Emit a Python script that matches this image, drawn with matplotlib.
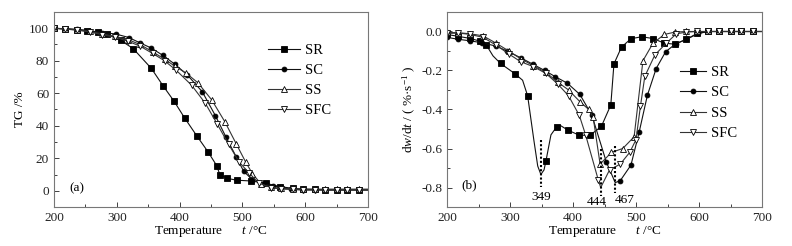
import matplotlib
matplotlib.use("Agg")
import matplotlib.pyplot as plt
from matplotlib.ticker import MultipleLocator

plt.rcParams['font.family'] = ['Liberation Serif', 'DejaVu Serif']
plt.rcParams['mathtext.fontset'] = 'custom'
plt.rcParams['mathtext.rm'] = 'Liberation Serif'
plt.rcParams['mathtext.it'] = 'Liberation Serif:italic'

series = ["SR", "SC", "SS", "SFC"]

# ---- (a) TG curves ----
tg_sr_t = [200, 218, 236, 253, 270, 285, 306, 326, 355, 374, 391, 408, 427, 445, 459, 464, 476, 491, 514, 538, 560, 580, 597, 615, 632, 650, 667, 685, 700]
tg_sr = [100, 99.6, 99.2, 98.5, 97.6, 96.3, 92.6, 87.5, 75.3, 64.4, 55.2, 44.8, 34, 24.1, 15.5, 10, 7.6, 6.5, 6, 4.5, 2.5, 1.5, 1, 0.8, 0.5, 0.5, 0.5, 0.5, 0.5]
tg_sc_t = [200, 218, 237, 256, 277, 298, 319, 337, 355, 373, 392, 412, 436, 457, 474, 490, 502, 516, 533, 548, 562, 578, 597, 615, 632, 650, 667, 685, 700]
tg_sc = [100, 99.7, 99.3, 98.5, 97.3, 96.5, 94.3, 91, 87.8, 83.4, 78, 71.4, 61, 46.2, 32.9, 21, 12, 6.7, 4.3, 3, 2.2, 1, 0.5, 0.5, 0.5, 0.5, 0.5, 0.5, 0.5]
tg_ss_t = [200, 218, 237, 257, 277, 297, 318, 337, 357, 376, 393, 410, 429, 451, 472, 490, 505, 516, 530, 545, 562, 580, 597, 615, 632, 650, 667, 685, 700]
tg_ss = [100, 99.5, 99, 98, 96.5, 95, 93, 90, 85.5, 81, 76.5, 72.5, 66.5, 56, 42.5, 29, 17.8, 10.5, 4, 2.2, 1.5, 1.2, 1, 1, 1, 1, 1, 1, 1]
tg_sfc_t = [200, 218, 237, 257, 277, 297, 318, 337, 357, 376, 395, 419, 441, 460, 478, 495, 511, 526, 545, 562, 580, 597, 615, 632, 650, 667, 685, 700]
tg_sfc = [100, 99.5, 98.8, 97.7, 96, 94.5, 92, 89, 84.5, 80, 74, 65, 53.8, 41, 28.6, 17.6, 10.8, 4.7, 2, 1, 0.8, 0.5, 0.5, 0.5, 0.5, 0.5, 0.5, 0.5]

# ---- (b) DTG curves ----
dtg_sr_t = [200, 218, 236, 253, 262, 273, 285, 308, 320, 328, 338, 344, 349, 354, 357, 365, 374, 380, 392, 410, 427, 445, 460, 465, 477, 492, 509, 527, 545, 562, 580, 597, 615, 632, 650, 667, 685, 700]
dtg_sr = [-0.015, -0.025, -0.035, -0.05, -0.067, -0.125, -0.164, -0.217, -0.25, -0.33, -0.56, -0.69, -0.733, -0.71, -0.665, -0.53, -0.489, -0.482, -0.506, -0.532, -0.532, -0.487, -0.377, -0.166, -0.08, -0.037, -0.027, -0.036, -0.06, -0.065, -0.04, -0.01, 0, 0, 0, 0, 0, 0]
dtg_sc_t = [200, 218, 237, 256, 278, 296, 317, 337, 355, 372, 391, 411, 430, 453, 467, 475, 492, 505, 518, 532, 547, 563, 580, 599, 615, 632, 650, 667, 685, 700]
dtg_sc = [-0.03, -0.04, -0.048, -0.058, -0.075, -0.101, -0.135, -0.169, -0.2, -0.232, -0.265, -0.323, -0.43, -0.67, -0.775, -0.765, -0.685, -0.516, -0.328, -0.19, -0.104, -0.063, -0.04, -0.01, 0, 0, 0, 0, 0, 0]
dtg_ss_t = [200, 218, 237, 257, 278, 298, 317, 337, 357, 376, 393, 411, 425, 432, 443, 461, 479, 497, 511, 527, 545, 562, 580, 597, 615, 632, 650, 667, 685, 700]
dtg_ss = [-0.005, -0.006, -0.012, -0.022, -0.06, -0.1, -0.14, -0.175, -0.21, -0.26, -0.3, -0.36, -0.4, -0.44, -0.68, -0.62, -0.6, -0.54, -0.15, -0.06, -0.015, -0.003, 0, 0, 0, 0, 0, 0, 0, 0]
dtg_sfc_t = [200, 218, 237, 257, 278, 298, 317, 337, 357, 376, 393, 410, 420, 440, 444, 458, 475, 490, 500, 507, 514, 530, 548, 564, 580, 597, 615, 632, 650, 667, 685, 700]
dtg_sfc = [-0.01, -0.008, -0.015, -0.03, -0.07, -0.115, -0.155, -0.18, -0.215, -0.27, -0.33, -0.43, -0.53, -0.76, -0.8, -0.71, -0.68, -0.62, -0.555, -0.384, -0.23, -0.12, -0.06, -0.012, -0.003, 0, 0, 0, 0, 0, 0, 0]

# temperatures of curve points drawn without a marker (curve shape points, end of range)
unmarked = {"SR": [273, 320, 338, 344, 349, 354, 365, 380, 700], "SC": [467, 700], "SS": [700], "SFC": [444, 700]}

peaks = [349, 444, 467]
peak_top = [-0.555, -0.603, -0.589]
peak_bottom = [-0.795, -0.846, -0.829]
peak_label_x = [350, 437, 482]
peak_label_y = [-0.848, -0.874, -0.862]

styles = {
    "SR": dict(marker='s', ms=3.8, mfc='black', color='#111111'),
    "SC": dict(marker='o', ms=3.5, mfc='black', color='#111111'),
    "SS": dict(marker='^', ms=4.4, mfc='white', color='#333333'),
    "SFC": dict(marker='v', ms=4.4, mfc='white', color='#333333'),
}

fig = plt.figure(figsize=(7.92, 2.46), dpi=100)
axa = fig.add_axes([54/792, 1-207/246, 314/792, 195/246])
axb = fig.add_axes([447/792, 1-207/246, 315/792, 195/246])

tg = {"SR": (tg_sr_t, tg_sr), "SC": (tg_sc_t, tg_sc), "SS": (tg_ss_t, tg_ss), "SFC": (tg_sfc_t, tg_sfc)}
dtg = {"SR": (dtg_sr_t, dtg_sr), "SC": (dtg_sc_t, dtg_sc), "SS": (dtg_ss_t, dtg_ss), "SFC": (dtg_sfc_t, dtg_sfc)}

for ax, data in ((axa, tg), (axb, dtg)):
    for s in series:
        t, v = data[s]
        me = [i for i, tt in enumerate(t) if tt not in unmarked[s]]
        st = styles[s]
        ax.plot(t, v, marker=st['marker'], ms=st['ms'], mfc=st['mfc'], mec='black', mew=0.6,
                color=st['color'], lw=0.8, markevery=me, label=s)

for ax in (axa, axb):
    ax.set_xlim(200, 700)
    ax.xaxis.set_major_locator(MultipleLocator(100))
    ax.xaxis.set_minor_locator(MultipleLocator(50))
    ax.tick_params(which='both', direction='in', top=False, right=False, labelsize=9.5, colors='#222222')
    ax.tick_params(which='major', length=3.5, width=0.6)
    ax.tick_params(which='minor', length=2, width=0.6)
    for sp in ax.spines.values():
        sp.set_color('#777777')
        sp.set_linewidth(0.8)
    ax.set_xlabel(r"Temperature      $t$ /°C", fontsize=9.5, labelpad=0)

axa.set_ylim(-10, 110)
axa.set_yticks([0, 20, 40, 60, 80, 100])
axa.yaxis.set_minor_locator(MultipleLocator(10))
axa.set_ylabel("TG /%", fontsize=9.5, labelpad=2)
axa.text(236, 1.5, "(a)", fontsize=9.5, ha='center', va='center')

axb.set_ylim(-0.9, 0.1)
axb.set_yticks([-0.8, -0.6, -0.4, -0.2, 0.0])
axb.yaxis.set_minor_locator(MultipleLocator(0.1))
axb.set_yticklabels(["-0.8", "-0.6", "-0.4", "-0.2", "0.0"])
axb.set_ylabel(r"d$w$/d$t$ / ( %·s$^{-1}$ )", fontsize=9.5, labelpad=2)
axb.text(236, -0.79, "(b)", fontsize=9.5, ha='center', va='center')

for px, y0, y1, lx, ly in zip(peaks, peak_top, peak_bottom, peak_label_x, peak_label_y):
    axb.plot([px, px], [y0, y1], ls=(0, (1, 1)), color='black', lw=1.5)
    axb.text(lx, ly, str(px), fontsize=9.5, ha='center', va='center')

axa.legend(loc='upper left', bbox_to_anchor=(0.682, 0.835), frameon=False, fontsize=10.5,
           handlelength=2.2, handletextpad=0.3, labelspacing=0.45, borderpad=0, borderaxespad=0)
axb.legend(loc='upper left', bbox_to_anchor=(0.74, 0.725), frameon=False, fontsize=10.5,
           handlelength=1.8, handletextpad=0.3, labelspacing=0.5, borderpad=0, borderaxespad=0)

fig.savefig("out.png", dpi=100)
